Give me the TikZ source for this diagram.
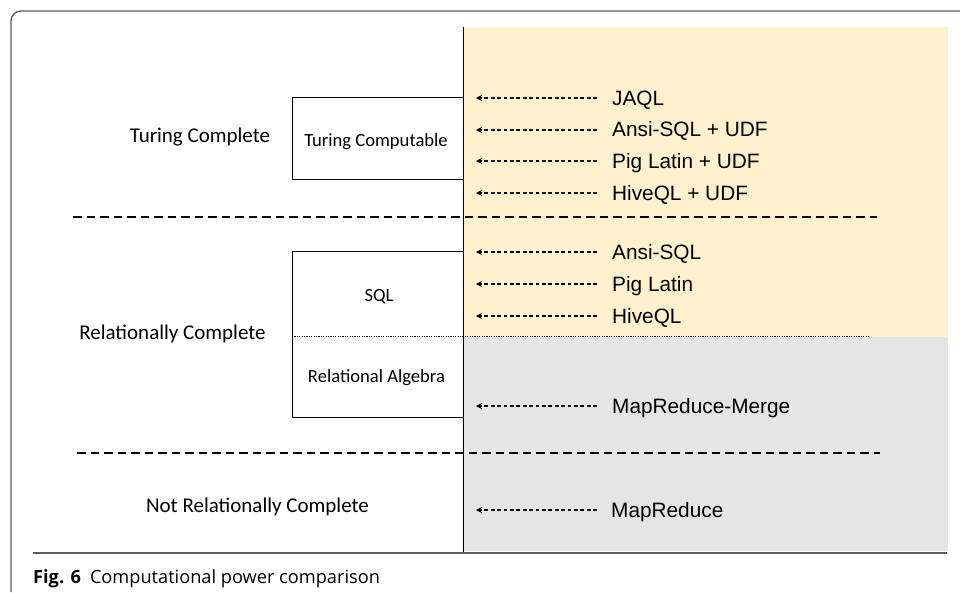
\documentclass[tikz,border=0pt]{standalone}
\usepackage{fontspec}
\setmainfont{Liberation Sans}
\newfontfamily\calfont{Carlito}
\newfontfamily\capfont{Open Sans}
\usetikzlibrary{arrows.meta}
\definecolor{paleyellow}{HTML}{FFF0CE}
\definecolor{palegray}{HTML}{E5E5E5}
\definecolor{framegray}{HTML}{5A5A5A}
\tikzset{
  x=1pt, y=-1pt,
  lang/.style={anchor=base west, inner sep=0pt, font=\fontsize{20.8}{24}\selectfont},
  level/.style={anchor=base, inner sep=0pt, font=\calfont\fontsize{21}{25}\selectfont},
  boxtext/.style={anchor=base, inner sep=0pt, font=\calfont\fontsize{18.6}{22}\selectfont},
  ptr/.style={-{Stealth[length=6pt,width=6pt]}, line width=1.1pt, dash pattern=on 3.8pt off 2.6pt},
  sep/.style={line width=1.8pt, dash pattern=on 8.5pt off 5pt},
  region/.style={draw, line width=0.9pt},
}
\begin{document}
\begin{tikzpicture}
\useasboundingbox (0,0) rectangle (960,592);
% panel frame
\draw[framegray, line width=1.3pt, rounded corners=10pt] (11,592) -- (11,11) -- (960,11);
% shaded bands
\fill[paleyellow] (463,27) rectangle (948,337);
\fill[palegray] (463,337) rectangle (948,551);
% level separators
\draw[sep] (73,217) -- (877,217);
\draw[sep] (77,453) -- (880,453);
% class boxes
\draw[region] (463,97) -- (292,97) -- (292,179) -- (463,179);
\draw[region] (463,251) -- (292,251) -- (292,417) -- (463,417);
\draw[line width=0.8pt, dash pattern=on 1.2pt off 1.2pt] (292,336.5) -- (870,336.5);
% axis
\draw[line width=1pt] (463,27) -- (463,553);
\draw[framegray, line width=1.6pt] (33,553) -- (947,553);
% level labels
\node[level] (tc) at (200,142) {Turing Complete};
\node[level] (rc) at (172.5,339.5) {Relationally Complete};
\node[level] (nrc) at (257.5,512.5) {Not Relationally Complete};
\node[boxtext] (tcomp) at (376,146.5) {Turing Computable};
\node[boxtext] (sql) at (379,301) {SQL};
\node[boxtext] (ra) at (376.5,382.5) {Relational Algebra};
% languages
\node[lang] (jaql) at (612,105) {JAQL};
\node[lang] (ansiudf) at (612,136.7) {Ansi-SQL + UDF};
\node[lang] (pigudf) at (612,168.3) {Pig Latin + UDF};
\node[lang] (hiveudf) at (612,200) {HiveQL + UDF};
\node[lang] (ansi) at (612,259) {Ansi-SQL};
\node[lang] (pig) at (612,291) {Pig Latin};
\node[lang] (hive) at (612,323) {HiveQL};
\node[lang] (mrm) at (612,413) {MapReduce-Merge};
\node[lang] (mr) at (611,517) {MapReduce};
% pointers
\foreach \n/\yy in {jaql/98, ansiudf/130, pigudf/161, hiveudf/193, ansi/252, pig/284, hive/316, mrm/406, mr/510} {
  \coordinate (\n-tip) at (476,\yy);
  \coordinate (\n-tail) at (597,\yy);
  \draw[ptr] (\n-tail) -- (\n-tip);
}
% caption
\node[anchor=base west, inner sep=0pt, font=\capfont\fontsize{18.2}{22}\selectfont] (cap) at (33,583) {\textbf{Fig. 6}\enspace Computational power comparison};
\end{tikzpicture}
\end{document}
